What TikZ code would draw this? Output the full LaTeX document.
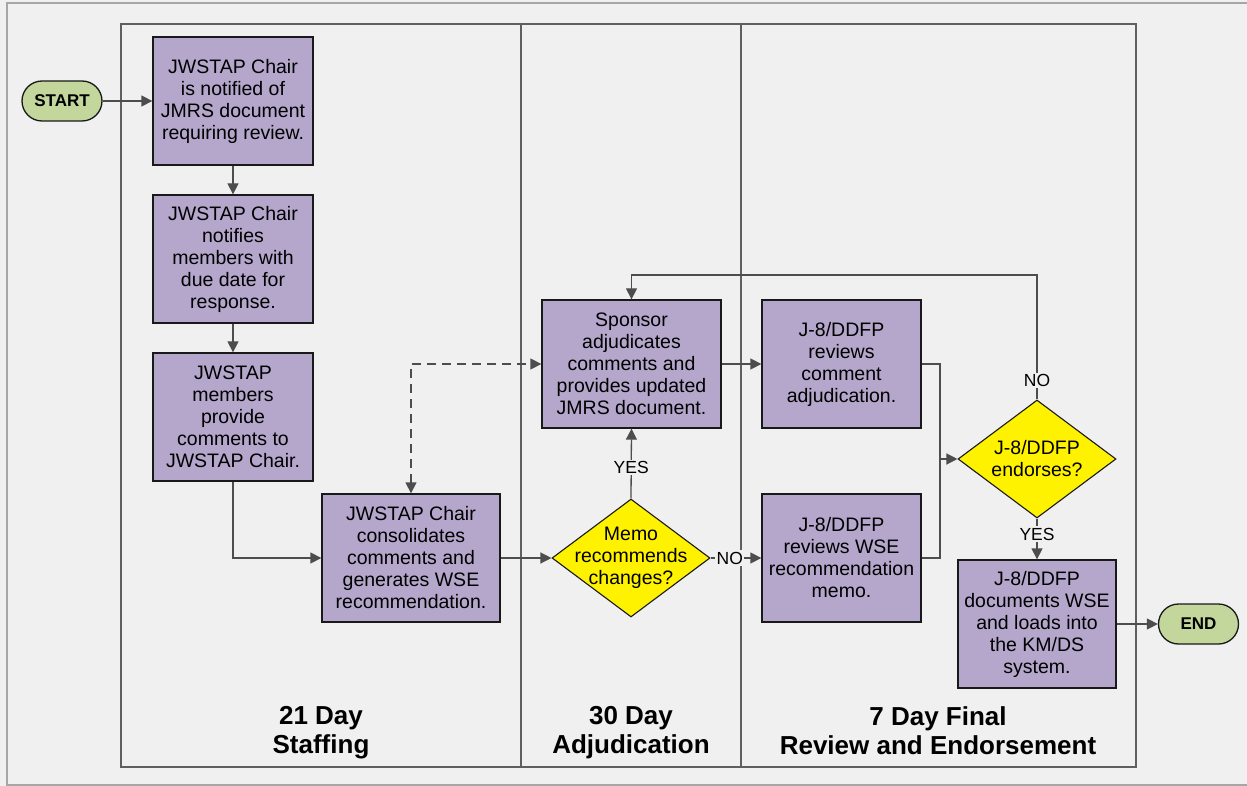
\documentclass[tikz,border=0pt]{standalone}
\usepackage{fontspec}
\setmainfont{Liberation Sans}
\usetikzlibrary{arrows.meta,positioning,shapes.geometric}
\definecolor{lanebg}{HTML}{F0F0F0}
\definecolor{taskpurple}{HTML}{B4A7CB}
\definecolor{termgreen}{HTML}{C3D69B}
\definecolor{linegray}{HTML}{4D4D4D}
\definecolor{framegray}{HTML}{5F5F5F}

\begin{document}
\begin{tikzpicture}[
    x=1pt, y=-1pt,
    node distance=30pt,
    task/.style={rectangle, draw=black!90, line width=1.3pt, fill=taskpurple, minimum height=128pt, align=center, inner sep=2pt, font=\fontsize{19.5}{22}\selectfont},
    decision/.style={diamond, draw=black!90, line width=1.1pt, fill=yellow, minimum width=158pt, minimum height=118pt, inner sep=0pt},
    dtext/.style={align=center, font=\fontsize{19.5}{22}\selectfont},
    terminal/.style={rectangle, rounded corners=20pt, draw=black!90, line width=1.3pt, fill=termgreen, minimum width=80pt, minimum height=40pt, font=\bfseries\fontsize{17}{20}\selectfont},
    arrow/.style={-{Triangle[length=11pt,width=11pt]}, line width=1.3pt, linegray},
    link/.style={line width=1.3pt, linegray},
    twoway/.style={{Triangle[length=11pt,width=11pt]}-{Triangle[length=11pt,width=11pt]}, line width=1.3pt, linegray, dash pattern=on 9pt off 6pt},
    answer/.style={fill=lanebg, inner sep=1.5pt, text=black, font=\fontsize{17.5}{20}\selectfont},
    lane/.style={draw=framegray, line width=1.6pt},
    phase/.style={align=center, font=\bfseries\fontsize{26}{29}\selectfont}
]
    \useasboundingbox (0,0) rectangle (1247,786);
    \fill[lanebg] (0,0) rectangle (1247,786);
    \draw[gray!70, line width=1.5pt] (1248,3) -- (7,3) -- (7,785) -- (1248,785);

    % swim lanes
    \draw[lane] (121,24) rectangle (1136,767);
    \draw[lane] (521,24) -- (521,767);
    \draw[lane] (741,24) -- (741,767);
    \node[phase] (staffing) at (321,733) {21 Day\\Staffing};
    \node[phase] (adjud) at (631,733) {30 Day\\Adjudication};
    \node[phase] (final) at (938,731) {7 Day Final\\Review and Endorsement};

    % steps
    \node[terminal] (start) at (62,101) {START};
    \node[task, minimum width=160pt] (notify) at (233,101) {JWSTAP Chair\\is notified of\\JMRS document\\requiring review.};
    \node[task, minimum width=160pt] (duedate) at (233,259) {JWSTAP Chair\\notifies\\members with\\due date for\\response.};
    \node[task, minimum width=160pt] (comments) at (233,417) {JWSTAP\\members\\provide\\comments to\\JWSTAP Chair.};
    \node[task, minimum width=178pt] (consol) at (411,558) {JWSTAP Chair\\consolidates\\comments and\\generates WSE\\recommendation.};
    \node[decision] (memo) at (631,558) {};
    \node[dtext] (memotext) at (memo) {Memo\\recommends\\changes?};
    \node[task, minimum width=179pt] (sponsor) at (631.5,364) {Sponsor\\adjudicates\\comments and\\provides updated\\JMRS document.};
    \node[task, minimum width=159pt] (review) at (841.5,364) {J-8/DDFP\\reviews\\comment\\adjudication.};
    \node[task, minimum width=159pt] (wsememo) at (841.5,558) {J-8/DDFP\\reviews WSE\\recommendation\\memo.};
    \node[decision] (endorse) at (1037,459) {};
    \node[dtext] (endorsetext) at (endorse) {J-8/DDFP\\endorses?};
    \node[task, minimum width=158pt] (docs) at (1037,624) {J-8/DDFP\\documents WSE\\and loads into\\the KM/DS\\system.};
    \node[terminal] (end) at (1198.5,624) {END};

    \coordinate (merge) at (940,459);
    \coordinate (loop) at (1037,275);

    % connectors
    \draw[arrow] (start) -- (notify);
    \draw[arrow] (notify) -- (duedate);
    \draw[arrow] (duedate) -- (comments);
    \draw[arrow] (comments.south) |- (consol.west);
    \draw[arrow] (consol) -- (memo);
    \draw[twoway] (consol.north) |- (sponsor.west);
    \draw[arrow] (memo.north) -- node[answer, pos=0.44] (yes1) {YES} (sponsor.south);
    \draw[arrow] (memo.east) -- node[answer, pos=0.38] (no1) {NO} (wsememo.west);
    \draw[arrow] (sponsor) -- (review);
    \draw[link] (review.east) -| (merge);
    \draw[link] (wsememo.east) -| (merge);
    \draw[arrow] (merge) -- (endorse.west);
    \draw[arrow] (endorse.north) -- node[answer, pos=0.15] (no2) {NO} (loop) -| (sponsor.north);
    \draw[arrow] (endorse.south) -- node[answer, pos=0.38] (yes2) {YES} (docs.north);
    \draw[arrow] (docs) -- (end);
\end{tikzpicture}
\end{document}
